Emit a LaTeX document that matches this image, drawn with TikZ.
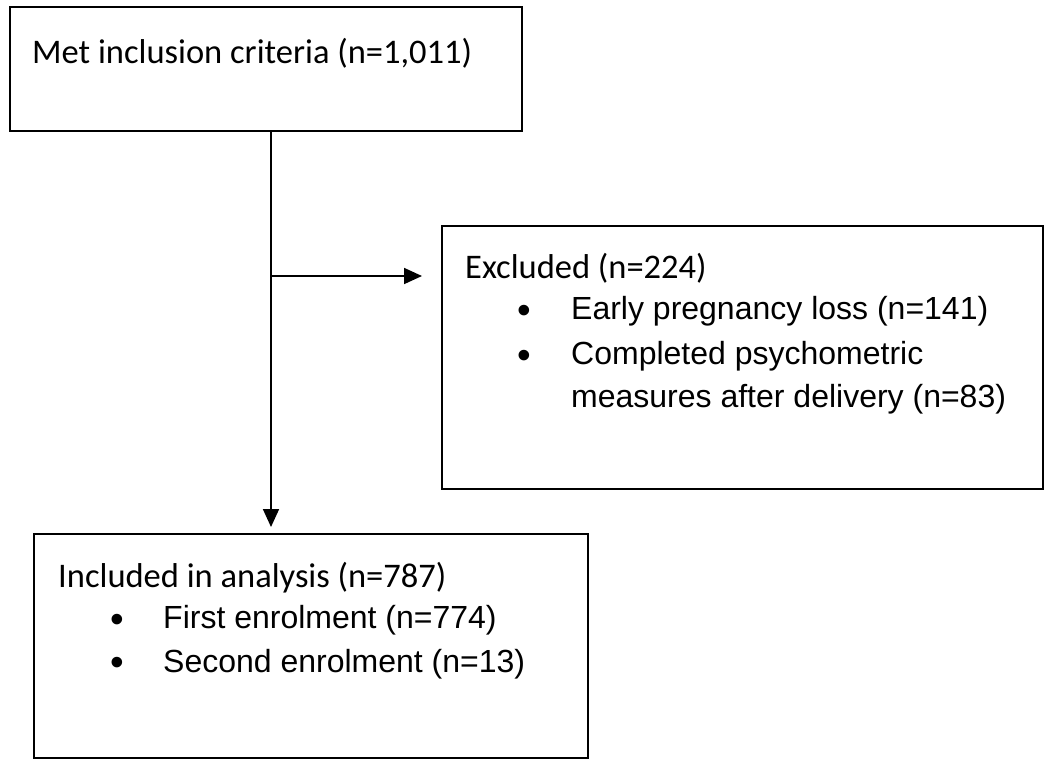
\documentclass[tikz,border=0pt]{standalone}
\usepackage{fontspec}
\newfontfamily\hdfont{Carlito}
\newfontfamily\itfont{Liberation Sans}
\usetikzlibrary{arrows.meta}
\begin{document}
\begin{tikzpicture}[x=1pt,y=-1pt,
 box/.style={draw=black, line width=1.8pt, inner sep=0pt, anchor=north west},
 hd/.style={anchor=base west, inner sep=0pt, font=\hdfont\fontsize{34.5}{40}\selectfont},
 itm/.style={anchor=base west, inner sep=0pt, font=\itfont\fontsize{32}{40}\selectfont},
 bul/.style={anchor=base, inner sep=0pt, font=\itfont\fontsize{39}{40}\selectfont},
 conn/.style={line width=1.8pt, -{Triangle[length=18pt,width=16pt]}}]
\fill[white] (0,0) rectangle (1050,763);
\useasboundingbox (0,0) rectangle (1050,763);
\node[box, minimum width=512pt, minimum height=124pt] (b1) at (9,6) {};
\node[box, minimum width=601pt, minimum height=263pt] (b2) at (441,225) {};
\node[box, minimum width=554pt, minimum height=224pt] (b3) at (33,533) {};
\node[hd] (t1) at (32,63) {Met inclusion criteria (n=1,011)};
\node[hd] (t2) at (465,278) {Excluded (n=224)};
\node[bul] (d21) at (524,323.5) {•};
\node[bul] (d22) at (524,368.5) {•};
\node[itm] (i21) at (571,319) {Early pregnancy loss (n=141)};
\node[itm] (i22) at (571,364) {Completed psychometric};
\node[itm] (i23) at (571,407) {measures after delivery (n=83)};
\node[hd] (t3) at (58,587) {Included in analysis (n=787)};
\node[bul] (d31) at (117,632.5) {•};
\node[bul] (d32) at (117,675.5) {•};
\node[itm] (i31) at (163,628) {First enrolment (n=774)};
\node[itm] (i32) at (163,672) {Second enrolment (n=13)};
\coordinate (j) at (271,276);
\draw[conn, shorten >=6pt] (b1.south -| j) -- (b3.north -| j);
\draw[conn, shorten >=19pt] (j) -- (b2.west |- j);
\end{tikzpicture}
\end{document}
